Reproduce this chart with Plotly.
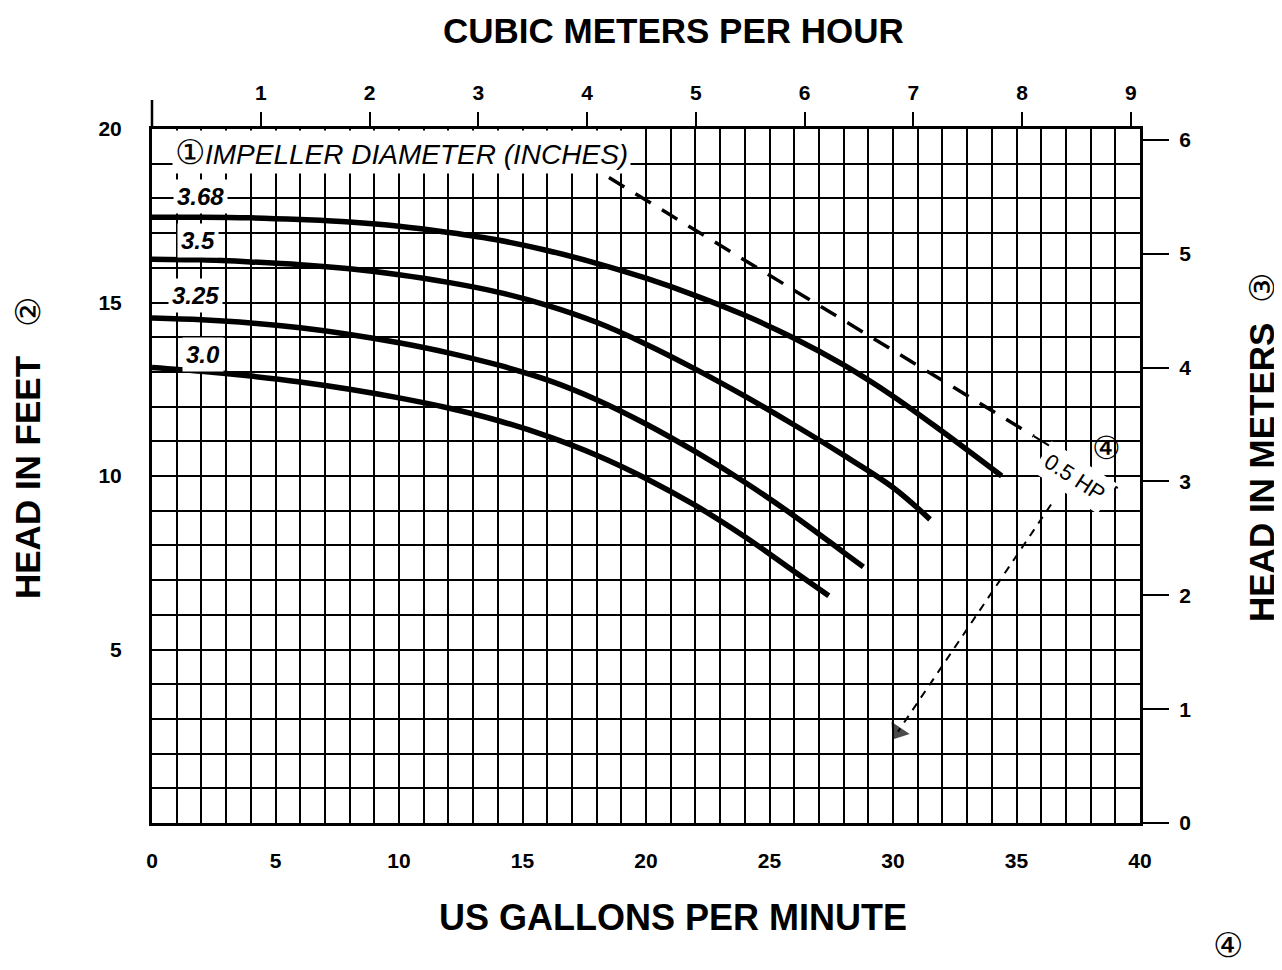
import plotly.graph_objects as go

# ---------------- data ----------------
gpm_368 = [0, 2, 4, 6, 8, 10, 12, 14, 16, 18, 20, 22, 24, 26, 28, 30, 32, 34.4]
head_368 = [17.46, 17.46, 17.44, 17.39, 17.32, 17.2, 17.02, 16.8, 16.5, 16.13, 15.7, 15.2,
            14.63, 13.97, 13.2, 12.3, 11.28, 10.0]

gpm_35 = [0, 2, 4, 6, 8, 10, 12, 14, 16, 18, 20, 22, 24, 26, 28, 30, 31.5]
head_35 = [16.25, 16.23, 16.17, 16.09, 15.97, 15.8, 15.58, 15.3, 14.92, 14.43, 13.8, 13.08,
           12.3, 11.47, 10.6, 9.67, 8.75]

gpm_325 = [0, 2, 4, 6, 8, 10, 12, 14, 16, 18, 20, 22, 24, 26, 28, 28.8]
head_325 = [14.55, 14.5, 14.41, 14.27, 14.08, 13.84, 13.55, 13.2, 12.77, 12.2, 11.5, 10.7,
            9.82, 8.85, 7.8, 7.38]

gpm_30 = [0, 2, 4, 6, 8, 10, 12, 14, 16, 18, 20, 22, 24, 26, 27.4]
head_30 = [13.13, 13.02, 12.88, 12.71, 12.5, 12.25, 11.96, 11.6, 11.15, 10.6, 9.93, 9.15,
           8.25, 7.25, 6.55]

hp_dash_gpm = [18.5, 35.7]
hp_dash_head = [18.6, 11.15]
hp_solid_gpm = [35.7, 39.1]
hp_solid_head = [11.15, 9.65]

arrow_gpm = [36.4, 30.2]
arrow_head = [9.18, 2.63]

impeller_labels = ["3.68", "3.5", "3.25", "3.0"]
impeller_label_pos = [(1.95, 18.05), (1.85, 16.78), (1.75, 15.2), (2.05, 13.5)]

x_ticks = [0, 5, 10, 15, 20, 25, 30, 35, 40]
y_ticks = [5, 10, 15, 20]
m3h_ticks = [1, 2, 3, 4, 5, 6, 7, 8, 9]
m_ticks = [0, 1, 2, 3, 4, 5, 6]

GPM_PER_M3H = 4.4029
FT_PER_M = 3.2808

# ---------------- layout geometry (page pixel coords) ----------------
OFF = 8                      # default body margin of the html page
PAGE_W, PAGE_H = 1282, 970
FW, FH = PAGE_W - OFF, PAGE_H - OFF
L, R, T, B = 152, 1140, 129, 823
FONT = "Liberation Sans, Arial, Helvetica, sans-serif"


def px(xp):
    return (xp - L) / (R - L)


def py(yp):
    return (B - yp) / (B - T)


fig = go.Figure()

curve_style = dict(color="black", width=5.5, shape="spline", smoothing=1.0)
for gx, hy in [(gpm_368, head_368), (gpm_35, head_35), (gpm_325, head_325), (gpm_30, head_30)]:
    fig.add_trace(go.Scatter(x=gx, y=hy, mode="lines", line=curve_style,
                             hoverinfo="skip", showlegend=False))

fig.add_trace(go.Scatter(x=hp_dash_gpm, y=hp_dash_head, mode="lines",
                         line=dict(color="black", width=3.5, dash="18px,13px"),
                         hoverinfo="skip", showlegend=False))
fig.add_trace(go.Scatter(x=hp_solid_gpm, y=hp_solid_head, mode="lines",
                         line=dict(color="black", width=2),
                         hoverinfo="skip", showlegend=False))
fig.add_trace(go.Scatter(x=arrow_gpm, y=arrow_head, mode="lines+markers",
                         line=dict(color="black", width=2, dash="8px,7px"),
                         marker=dict(symbol="triangle-up", size=[0, 19], color="black",
                                     angleref="previous", line=dict(width=0)),
                         hoverinfo="skip", showlegend=False))

# invisible traces to activate secondary axes
fig.add_trace(go.Scatter(x=[0, 9], y=[None, None], xaxis="x2", yaxis="y", showlegend=False,
                         hoverinfo="skip"))
fig.add_trace(go.Scatter(x=[None, None], y=[0, 6], xaxis="x", yaxis="y2", showlegend=False,
                         hoverinfo="skip"))

grid_major = dict(showgrid=True, gridcolor="black", gridwidth=2.2)
minor = dict(dtick=1, showgrid=True, gridcolor="black", gridwidth=1.6, ticks="")
tickfont = dict(size=21, weight="bold", family=FONT, color="black")

fig.update_layout(
    width=FW, height=FH,
    margin=dict(l=L - OFF, r=PAGE_W - R, t=T - OFF, b=PAGE_H - B, pad=0),
    paper_bgcolor="white", plot_bgcolor="white",
    font=dict(family=FONT, color="black", size=19),
    showlegend=False,
    xaxis=dict(range=[0, 40], tickvals=x_ticks, ticks="", showline=True,
               linecolor="black", linewidth=3, mirror=False, zeroline=False,
               ticklabelstandoff=17, tickfont=tickfont, minor=minor, **grid_major),
    yaxis=dict(range=[0, 20], tickvals=y_ticks, ticks="", showline=True,
               linecolor="black", linewidth=3, zeroline=False,
               ticklabelstandoff=23, tickfont=tickfont, minor=minor, **grid_major),
    xaxis2=dict(range=[0, 40 / GPM_PER_M3H], overlaying="x", side="top",
                tickvals=m3h_ticks, ticks="outside", ticklen=14, tickwidth=2,
                tickcolor="black", showline=True, linecolor="black", linewidth=3,
                showgrid=False, zeroline=False, ticklabelstandoff=4, tickfont=tickfont),
    yaxis2=dict(range=[0, 20 / FT_PER_M], overlaying="y", side="right",
                tickvals=m_ticks, ticks="outside", ticklen=26, tickwidth=2,
                tickcolor="black", showline=True, linecolor="black", linewidth=3,
                showgrid=False, zeroline=False, ticklabelstandoff=6, tickfont=tickfont),
)

# long tick at origin of top axis
fig.add_shape(type="line", xref="paper", yref="paper", x0=0, x1=0, y0=1, y1=py(100),
              line=dict(color="black", width=2.5))

CIRC = '<span style="font-size:{s}px;font-weight:normal">{c}</span>'
CENTER = dict(xanchor="center", yanchor="middle", showarrow=False)

ann = []
# axis titles
ann.append(dict(text="<b>CUBIC METERS PER HOUR</b>", x=px(673), y=py(30), xref="paper",
                yref="paper", font=dict(size=35), **CENTER))
ann.append(dict(text="<b>US GALLONS PER MINUTE</b>", x=px(673), y=py(917), xref="paper",
                yref="paper", font=dict(size=36), **CENTER))
ann.append(dict(text="<b>HEAD IN FEET</b>   " + CIRC.format(s=34, c="②"),
                x=px(28), y=py(448), xref="paper",
                yref="paper", textangle=-90, font=dict(size=35), **CENTER))
ann.append(dict(text="<b>HEAD IN METERS</b>  " + CIRC.format(s=34, c="③"),
                x=px(1262), y=py(448), xref="paper",
                yref="paper", textangle=-90, font=dict(size=35), **CENTER))
ann.append(dict(text="④", x=px(1228), y=py(945), xref="paper", yref="paper",
                font=dict(size=34), **CENTER))

# in-plot labels
ann.append(dict(text=CIRC.format(s=34, c="①") + "<i>IMPELLER DIAMETER (INCHES)</i>",
                x=10.1, y=19.33, xref="x",
                yref="y", font=dict(size=28), bgcolor="white",
                borderpad=2, **CENTER))
for lab, (lx, ly) in zip(impeller_labels, impeller_label_pos):
    ann.append(dict(text=f"<b><i>{lab}</i></b>", x=lx, y=ly, xref="x", yref="y",
                    font=dict(size=24), bgcolor="white", borderpad=3, **CENTER))

ann.append(dict(text="0.5 HP", x=37.35, y=9.95, xref="x", yref="y",
                textangle=33, font=dict(size=22), bgcolor="white", borderpad=5, **CENTER))
ann.append(dict(text="④", x=38.65, y=10.8, xref="x", yref="y",
                font=dict(size=32), **CENTER))

fig.update_layout(annotations=ann)

fig.write_html("out.html")
